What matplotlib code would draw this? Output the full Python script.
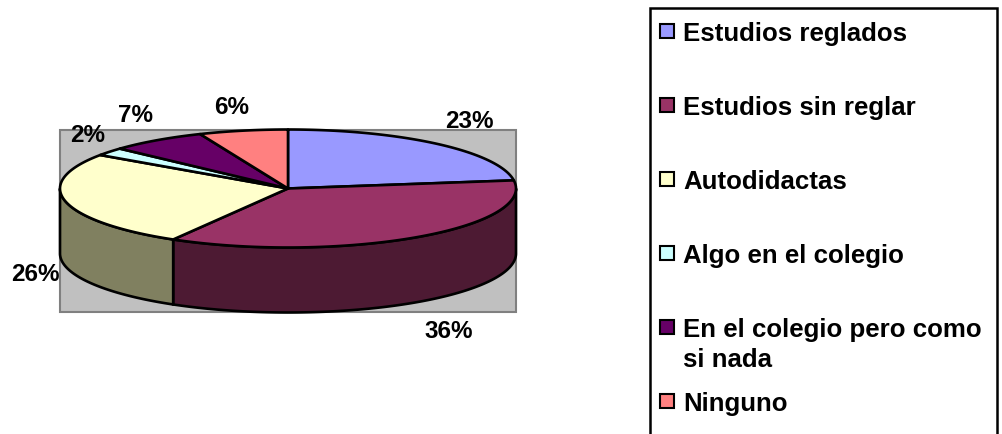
import numpy as np
import matplotlib
matplotlib.use('Agg')
import matplotlib.pyplot as plt
from matplotlib.patches import Polygon, Rectangle

plt.rcParams['font.family'] = ['Liberation Sans', 'DejaVu Sans']

# datos
categorias = ['Estudios reglados', 'Estudios sin reglar', 'Autodidactas',
              'Algo en el colegio', 'En el colegio pero como\nsi nada', 'Ninguno']
valores = [22.8, 35.6, 26.2, 2.2, 6.9, 6.3]
colores = ['#9999FF', '#993366', '#FFFFCC', '#CCFFFF', '#660066', '#FF8080']
colores_lado = ['#4D4D80', '#4D1A33', '#808060', '#668080', '#330033', '#804040']

# posiciones en pixeles de la imagen
cx, cy, rx, ry, prof = 288, 189.5, 228, 59, 65
pos_pct = [(469, 122), (449, 332), (35, 275), (88, 136), (136, 116), (232, 108)]
pos_leyenda = [32, 106, 180, 254, 328, 402]

fig = plt.figure(figsize=(10.02, 4.35), dpi=100)
ax = fig.add_axes([0, 0, 1, 1])
ax.set_xlim(0, 1002)
ax.set_ylim(435, 0)
ax.axis('off')


def borde(a0, a1):
    # angulo en grados desde las 12, sentido horario
    t = np.radians(np.linspace(a0, a1, 200))
    return np.column_stack([cx + rx * np.sin(t), cy - ry * np.cos(t)])


# pared del fondo
ax.add_patch(Rectangle((60, 131), 456, 182, fc='#C0C0C0', ec='#808080', lw=1.5, zorder=1))

# sectores
limites = np.concatenate([[0], np.cumsum(valores)]) / sum(valores) * 360
for i in range(len(valores)):
    a0, a1 = limites[i], limites[i + 1]
    # lado visible: de 90 a 270 grados
    b0, b1 = max(a0, 90), min(a1, 270)
    if b1 > b0:
        arriba = borde(b0, b1)
        abajo = arriba[::-1] + [0, prof]
        ax.add_patch(Polygon(np.vstack([arriba, abajo]), closed=True,
                             fc=colores_lado[i], ec='black', lw=1.9, zorder=2))
for i in range(len(valores)):
    pts = np.vstack([[cx, cy], borde(limites[i], limites[i + 1])])
    ax.add_patch(Polygon(pts, closed=True, fc=colores[i], ec='black', lw=1.9,
                         joinstyle='round', zorder=3))

# porcentajes
for v, (x, y) in zip(valores, pos_pct):
    ax.text(x, y, f'{v:.0f}%', fontsize=17.5, fontweight='bold', ha='center',
            va='center', color='black', zorder=5)

# leyenda
ax.add_patch(Rectangle((650, 9), 347, 440, fc='white', ec='black', lw=1.8, zorder=1))
for nombre, color, y in zip(categorias, colores, pos_leyenda):
    ax.add_patch(Rectangle((660, y - 7), 14, 14, fc=color, ec='black', lw=1.5, zorder=4))
    ax.text(683, y - 10, nombre, fontsize=18.6, fontweight='bold', ha='left', va='top',
            linespacing=1.3, color='black', zorder=5)

fig.savefig('out.png', dpi=100)
